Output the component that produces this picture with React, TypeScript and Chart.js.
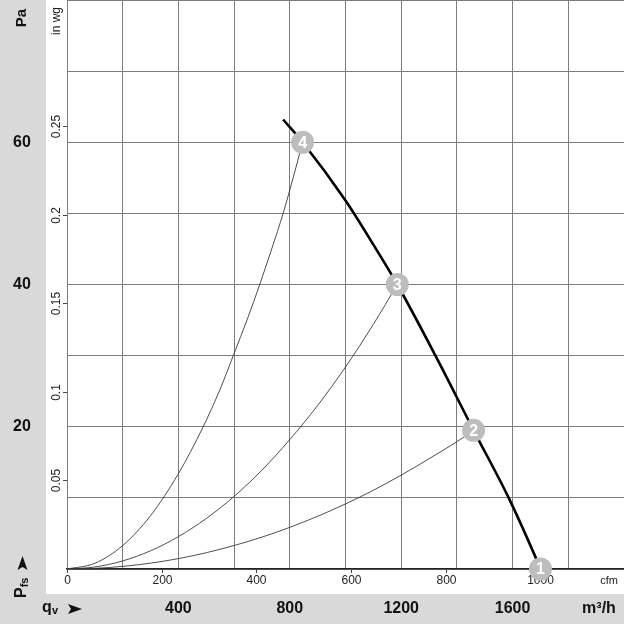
import React, { useEffect, useRef } from "react";
import { Chart, registerables } from "chart.js";

Chart.register(...registerables);

// ---- data (m³/h, Pa) ----
const fanCurveQ = [776, 846, 1000, 1100, 1186, 1323, 1460, 1586, 1683, 1700];
const fanCurveP = [63.2, 60.0, 51.8, 45.6, 40.0, 30.0, 19.5, 10.0, 1.6, 0];

const sys4Q = [0, 100, 200, 300, 400, 489, 550, 597, 650, 692, 735, 776, 812, 846];
const sys4P = [0, 0.8, 3.3, 7.5, 13.4, 20, 25.3, 30, 35.4, 40, 45, 50, 55, 60];

const sys3Q = [0, 100, 200, 300, 400, 500, 600, 700, 800, 900, 1000, 1100, 1186];
const sys3P = [0, 0.28, 1.14, 2.56, 4.55, 7.1, 10.2, 13.9, 18.2, 23.0, 28.4, 34.4, 40];

const sys2Q = [0, 100, 200, 300, 400, 500, 600, 700, 800, 900, 1000, 1100, 1200, 1300, 1400, 1460];
const sys2P = [0, 0.09, 0.37, 0.82, 1.46, 2.29, 3.3, 4.48, 5.86, 7.41, 9.15, 11.07, 13.2, 15.5, 17.9, 19.5];

const markerQ = [1700, 1460, 1186, 846];
const markerP = [0, 19.5, 40, 60];
const markerLabels = ["1", "2", "3", "4"];

// ---- ticks ----
const paTicks = [20, 40, 60];
const inwgTicks = [0.05, 0.1, 0.15, 0.2, 0.25];
const cfmTicks = [0, 200, 400, 600, 800, 1000];
const m3hTicks = [400, 800, 1200, 1600];

const Q_MAX = 2000;
const P_MAX = 80;
const CFM_PER_M3H = 1 / 1.699;
const INWG_PER_PA = 1 / 249.0889;

const FONT = '"Liberation Sans", Arial, Helvetica, sans-serif';

const toPts = (xs: number[], ys: number[]) => xs.map((x, i) => ({ x, y: ys[i] }));

function arrowHead(ctx: CanvasRenderingContext2D, cx: number, cy: number, angle: number) {
  ctx.save();
  ctx.translate(cx, cy);
  ctx.rotate(angle);
  ctx.beginPath();
  ctx.moveTo(-7, -5);
  ctx.lineTo(7, 0);
  ctx.lineTo(-7, 5);
  ctx.lineTo(-4, 0);
  ctx.closePath();
  ctx.fillStyle = "#111";
  ctx.fill();
  ctx.restore();
}

const decorPlugin = {
  id: "decor",
  beforeDraw(chart: any) {
    const { ctx, width, height } = chart;
    ctx.save();
    ctx.fillStyle = "#ffffff";
    ctx.fillRect(0, 0, width, height);
    ctx.fillStyle = "#d9d9d9";
    ctx.fillRect(0, 0, 46, height);
    ctx.fillRect(0, 594, width, height - 594);
    ctx.restore();
  },
  beforeDatasetsDraw(chart: any) {
    const { ctx, scales, chartArea } = chart;
    const y = scales.y;
    const x = scales.x;
    const yw = scales.yw;
    const xc = scales.xc;
    ctx.save();
    ctx.fillStyle = "#111";
    ctx.textAlign = "center";
    ctx.textBaseline = "middle";

    // Pa tick labels
    ctx.font = `bold 16px ${FONT}`;
    paTicks.forEach((v) => ctx.fillText(String(v), 22, y.getPixelForValue(v)));

    // Pa unit (rotated)
    ctx.save();
    ctx.translate(22, 18);
    ctx.rotate(-Math.PI / 2);
    ctx.font = `bold 15px ${FONT}`;
    ctx.fillText("Pa", 0, 0);
    ctx.restore();

    // in wg ticks and labels
    ctx.strokeStyle = "#444";
    ctx.lineWidth = 1;
    ctx.font = `12px ${FONT}`;
    ctx.fillStyle = "#222";
    inwgTicks.forEach((v) => {
      const py = Math.round(yw.getPixelForValue(v)) + 0.5;
      ctx.beginPath();
      ctx.moveTo(chartArea.left - 4, py);
      ctx.lineTo(chartArea.left, py);
      ctx.stroke();
      ctx.save();
      ctx.translate(57, py);
      ctx.rotate(-Math.PI / 2);
      ctx.fillText(String(v), 0, 0);
      ctx.restore();
    });
    ctx.save();
    ctx.translate(57, 21);
    ctx.rotate(-Math.PI / 2);
    ctx.fillText("in wg", 0, 0);
    ctx.restore();

    // cfm ticks and labels
    cfmTicks.forEach((v) => {
      const px = Math.round(xc.getPixelForValue(v)) + 0.5;
      ctx.beginPath();
      ctx.moveTo(px, chartArea.bottom);
      ctx.lineTo(px, chartArea.bottom + 4);
      ctx.stroke();
      ctx.fillText(String(v), px, 581);
    });
    ctx.font = `11px ${FONT}`;
    ctx.fillText("cfm", 609, 581);

    // m3/h labels
    ctx.fillStyle = "#111";
    ctx.font = `bold 16px ${FONT}`;
    m3hTicks.forEach((v) => ctx.fillText(String(v), x.getPixelForValue(v), 609));
    ctx.fillText("m³/h", 599, 609);

    // qv label
    ctx.textAlign = "left";
    ctx.font = `bold 16px ${FONT}`;
    ctx.fillText("q", 42, 608);
    ctx.font = `bold 11px ${FONT}`;
    ctx.fillText("v", 52, 611);
    arrowHead(ctx, 75, 609, 0);

    // Pfs label (rotated)
    ctx.save();
    ctx.translate(22, 598);
    ctx.rotate(-Math.PI / 2);
    ctx.textAlign = "left";
    ctx.font = `bold 16px ${FONT}`;
    ctx.fillText("P", 0, 0);
    const pw = ctx.measureText("P").width;
    ctx.font = `bold 11px ${FONT}`;
    ctx.fillText("fs", pw, 3);
    ctx.restore();
    arrowHead(ctx, 22.5, 563, -Math.PI / 2);

    ctx.restore();
  },
  afterDatasetsDraw(chart: any) {
    const { ctx } = chart;
    const meta = chart.getDatasetMeta(0);
    ctx.save();
    ctx.fillStyle = "#ffffff";
    ctx.font = `bold 16px ${FONT}`;
    ctx.textAlign = "center";
    ctx.textBaseline = "middle";
    meta.data.forEach((pt: any, i: number) => {
      ctx.fillText(markerLabels[i], pt.x, pt.y + 1);
    });
    ctx.restore();
  },
};

export default function App() {
  const ref = useRef<HTMLCanvasElement | null>(null);

  useEffect(() => {
    if (!ref.current) return;
    const thin = { borderColor: "#3a3a3a", borderWidth: 0.9, pointRadius: 0, cubicInterpolationMode: "monotone" as const, fill: false };
    const chart = new Chart(ref.current, {
      type: "line",
      data: {
        datasets: [
          {
            data: toPts(markerQ, markerP),
            showLine: false,
            pointRadius: 11.5,
            pointHoverRadius: 11.5,
            pointBackgroundColor: "#bdbdbd",
            pointBorderWidth: 0,
            borderWidth: 0,
            clip: false as any,
          },
          {
            data: toPts(fanCurveQ, fanCurveP),
            borderColor: "#000000",
            borderWidth: 2.6,
            pointRadius: 0,
            cubicInterpolationMode: "monotone",
            fill: false,
          },
          { data: toPts(sys4Q, sys4P), ...thin },
          { data: toPts(sys3Q, sys3P), ...thin },
          { data: toPts(sys2Q, sys2P), ...thin },
        ],
      },
      options: {
        animation: false,
        responsive: false,
        devicePixelRatio: 1,
        layout: { autoPadding: false, padding: { left: 67, right: 0, top: 0, bottom: 55 } },
        plugins: { legend: { display: false }, tooltip: { enabled: false } },
        events: [],
        scales: {
          x: {
            type: "linear",
            position: "bottom",
            min: 0,
            max: Q_MAX,
            ticks: { display: false, stepSize: 200 },
            grid: { color: "#7c7c7c", lineWidth: 1, drawTicks: false },
            border: { color: "#222", width: 1.5 },
          },
          y: {
            type: "linear",
            position: "left",
            min: 0,
            max: P_MAX,
            ticks: { display: false, stepSize: 10 },
            grid: { color: "#7c7c7c", lineWidth: 1, drawTicks: false },
            border: { color: "#7c7c7c", width: 1 },
          },
          xc: {
            type: "linear",
            position: "bottom",
            display: false,
            min: 0,
            max: Q_MAX * CFM_PER_M3H,
          },
          yw: {
            type: "linear",
            position: "left",
            display: false,
            min: 0,
            max: P_MAX * INWG_PER_PA,
          },
        },
      },
      plugins: [decorPlugin],
    });
    return () => chart.destroy();
  }, []);

  return (
    <div style={{ position: "fixed", left: 0, top: 0, width: 624, height: 624 }}>
      <canvas ref={ref} width={624} height={624} style={{ width: 624, height: 624, display: "block" }} />
    </div>
  );
}
